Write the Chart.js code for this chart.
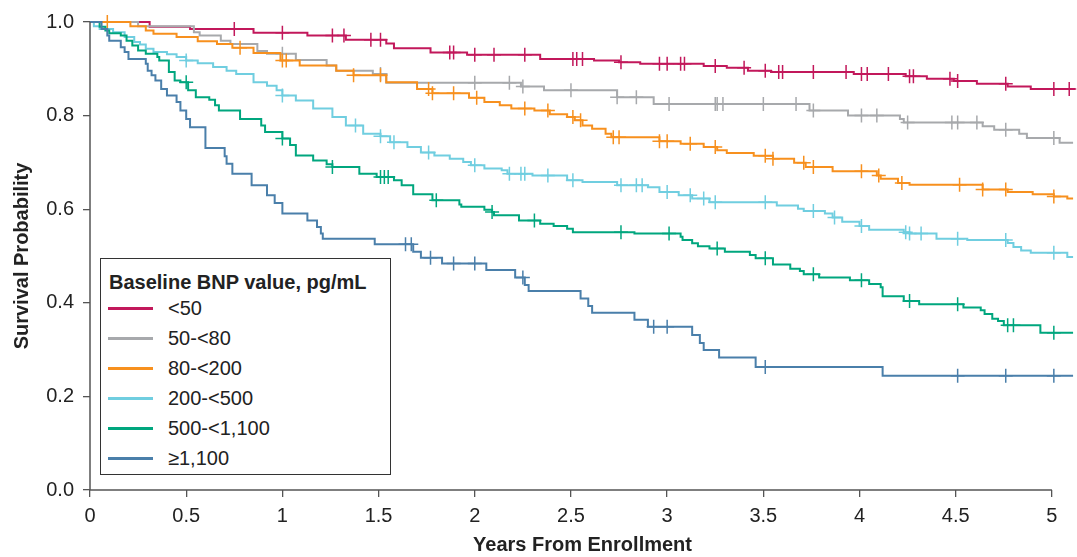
<!DOCTYPE html>
<html>
<head>
<meta charset="utf-8">
<script src="https://cdn.jsdelivr.net/npm/chart.js@4.4.1/dist/chart.umd.min.js"></script>
<style>
  body { margin: 0; background: #fff; font-family: "Liberation Sans", Arial, sans-serif; }
  #wrap { position: relative; width: 1077px; height: 557px; }
  #legend {
    position: absolute; left: 100px; top: 258px; width: 291px; height: 217px;
    box-sizing: border-box; border: 1.5px solid #333; background: #fff;
    color: #222;
  }
  #legend .title { position: absolute; left: 8px; top: 12px; font-weight: bold; font-size: 20px; white-space: nowrap; }
  #legend .item { position: absolute; left: 0; height: 24px; font-size: 20px; white-space: nowrap; }
  #legend .item span.sw { position: absolute; left: 7px; top: 11px; width: 45px; height: 2.5px; }
  #legend .item span.tx { position: absolute; left: 67px; top: 0; line-height: 24px; }
</style>
</head>
<body>
<div id="wrap">
  <canvas id="km-chart" width="1077" height="557"></canvas>
  <div id="legend"></div>
</div>
<script>
// series labels and colours
let groupLabels = ['<50', '50-<80', '80-<200', '200-<500', '500-<1,100', '≥1,100'];
let groupColors = ['rgb(194, 24, 91)', 'rgb(167, 169, 172)', 'rgb(247, 144, 30)',
                   'rgb(112, 206, 224)', 'rgb(0, 166, 126)', 'rgb(74, 127, 170)'];

// <50
let timesA = [0, 0.31, 0.52, 0.85, 1.13, 1.33, 1.54, 1.58, 1.77, 1.96, 2.34, 2.62, 2.75, 2.86, 3.19, 3.31, 3.42, 3.54, 3.97, 4.24, 4.35, 4.49, 4.61, 4.77, 4.89, 5.12];
let survA  = [1.0, 0.990, 0.985, 0.977, 0.971, 0.962, 0.954, 0.944, 0.935, 0.930, 0.921, 0.918, 0.914, 0.911, 0.906, 0.902, 0.896, 0.893, 0.889, 0.884, 0.879, 0.874, 0.868, 0.862, 0.857, 0.857];
let censA  = [0.75, 1.0, 1.26, 1.32, 1.46, 1.51, 1.87, 1.89, 2.0, 2.10, 2.26, 2.51, 2.53, 2.56, 2.76, 2.96, 3.0, 3.07, 3.09, 3.25, 3.40, 3.51, 3.58, 3.60, 3.76, 3.93, 4.01, 4.04, 4.15, 4.26, 4.28, 4.47, 4.51, 4.76, 5.01, 5.09];

// 50-<80
let timesB = [0, 0.25, 0.54, 0.57, 0.68, 0.73, 0.87, 0.92, 1.07, 1.23, 1.28, 1.47, 1.54, 2.24, 2.36, 2.74, 2.93, 3.74, 3.94, 4.21, 4.23, 4.64, 4.70, 4.83, 4.87, 5.04, 5.11];
let survB  = [1.0, 0.991, 0.978, 0.971, 0.960, 0.953, 0.938, 0.932, 0.919, 0.907, 0.896, 0.889, 0.870, 0.862, 0.854, 0.839, 0.825, 0.811, 0.800, 0.793, 0.785, 0.777, 0.770, 0.761, 0.752, 0.742, 0.742];
let censB  = [1.0, 1.51, 2.0, 2.18, 2.25, 2.50, 2.74, 2.84, 3.01, 3.25, 3.26, 3.29, 3.50, 3.67, 3.76, 4.01, 4.09, 4.25, 4.48, 4.51, 4.61, 4.76, 5.01];

// 80-<200
let timesC = [0, 0.21, 0.29, 0.33, 0.45, 0.56, 0.66, 0.74, 0.85, 0.99, 1.09, 1.28, 1.37, 1.54, 1.70, 1.78, 1.97, 2.05, 2.13, 2.19, 2.31, 2.39, 2.48, 2.52, 2.56, 2.61, 2.68, 2.71, 2.96, 3.07, 3.19, 3.26, 3.31, 3.45, 3.55, 3.66, 3.72, 3.86, 4.09, 4.11, 4.20, 4.26, 4.64, 4.77, 4.90, 5.01, 5.08, 5.11];
let survC  = [1.0, 0.991, 0.982, 0.975, 0.968, 0.959, 0.953, 0.945, 0.934, 0.918, 0.907, 0.896, 0.886, 0.871, 0.857, 0.848, 0.838, 0.829, 0.822, 0.815, 0.811, 0.803, 0.797, 0.790, 0.779, 0.772, 0.761, 0.754, 0.745, 0.740, 0.733, 0.726, 0.720, 0.714, 0.708, 0.699, 0.690, 0.681, 0.672, 0.665, 0.656, 0.652, 0.642, 0.637, 0.632, 0.627, 0.623, 0.623];
let censC  = [0.09, 0.78, 1.0, 1.02, 1.37, 1.51, 1.76, 1.78, 1.89, 2.01, 2.26, 2.38, 2.51, 2.55, 2.72, 2.75, 2.96, 3.0, 3.12, 3.25, 3.51, 3.55, 3.71, 3.76, 4.01, 4.10, 4.22, 4.52, 4.64, 4.76, 5.01];

// 200-<500
let timesD = [0, 0.02, 0.05, 0.12, 0.18, 0.23, 0.26, 0.29, 0.33, 0.40, 0.45, 0.50, 0.56, 0.64, 0.71, 0.76, 0.85, 0.92, 0.97, 1.0, 1.07, 1.16, 1.26, 1.33, 1.42, 1.51, 1.56, 1.65, 1.72, 1.79, 1.87, 1.94, 1.98, 2.05, 2.14, 2.17, 2.30, 2.48, 2.56, 2.74, 2.90, 2.96, 3.06, 3.13, 3.22, 3.57, 3.68, 3.71, 3.82, 3.86, 3.91, 4.00, 4.05, 4.23, 4.26, 4.40, 4.56, 4.77, 4.80, 4.84, 4.89, 5.08, 5.11];
let survD  = [1.0, 0.991, 0.985, 0.978, 0.968, 0.957, 0.952, 0.943, 0.936, 0.931, 0.925, 0.918, 0.912, 0.904, 0.896, 0.889, 0.871, 0.864, 0.854, 0.843, 0.832, 0.815, 0.797, 0.779, 0.761, 0.756, 0.743, 0.733, 0.721, 0.715, 0.708, 0.701, 0.694, 0.687, 0.683, 0.676, 0.672, 0.662, 0.658, 0.651, 0.647, 0.637, 0.630, 0.623, 0.615, 0.608, 0.601, 0.596, 0.591, 0.582, 0.573, 0.564, 0.556, 0.551, 0.548, 0.537, 0.534, 0.528, 0.519, 0.512, 0.507, 0.498, 0.498];
let censD  = [0.50, 1.0, 1.38, 1.51, 1.58, 1.76, 2.0, 2.18, 2.24, 2.26, 2.38, 2.51, 2.76, 2.84, 2.87, 3.0, 3.12, 3.19, 3.25, 3.51, 3.76, 3.87, 4.01, 4.24, 4.26, 4.32, 4.51, 4.76, 5.01];

// 500-<1,100
let timesE = [0, 0.05, 0.08, 0.10, 0.16, 0.19, 0.22, 0.25, 0.29, 0.35, 0.36, 0.41, 0.44, 0.47, 0.51, 0.55, 0.62, 0.65, 0.67, 0.78, 0.89, 0.91, 1.0, 1.04, 1.07, 1.16, 1.23, 1.26, 1.40, 1.49, 1.58, 1.62, 1.68, 1.78, 1.92, 1.93, 2.05, 2.09, 2.10, 2.23, 2.34, 2.41, 2.48, 2.51, 2.83, 3.07, 3.08, 3.13, 3.16, 3.22, 3.30, 3.43, 3.46, 3.55, 3.64, 3.69, 3.71, 3.79, 3.95, 4.05, 4.11, 4.12, 4.23, 4.31, 4.54, 4.63, 4.65, 4.69, 4.72, 4.75, 4.94, 5.11];
let survE  = [1.0, 0.990, 0.982, 0.976, 0.971, 0.960, 0.950, 0.939, 0.932, 0.925, 0.918, 0.893, 0.875, 0.871, 0.854, 0.839, 0.834, 0.822, 0.811, 0.793, 0.779, 0.765, 0.751, 0.737, 0.715, 0.704, 0.696, 0.690, 0.676, 0.669, 0.662, 0.651, 0.632, 0.619, 0.610, 0.605, 0.599, 0.594, 0.587, 0.576, 0.569, 0.564, 0.558, 0.551, 0.548, 0.541, 0.534, 0.527, 0.521, 0.516, 0.509, 0.502, 0.495, 0.482, 0.473, 0.468, 0.461, 0.454, 0.448, 0.440, 0.433, 0.414, 0.404, 0.397, 0.390, 0.384, 0.376, 0.366, 0.361, 0.352, 0.336, 0.336];
let censE  = [0.50, 1.0, 1.26, 1.51, 1.53, 1.55, 1.80, 2.09, 2.31, 2.76, 3.01, 3.26, 3.51, 3.76, 4.01, 4.26, 4.51, 4.77, 4.80, 5.01];

// ≥1,100
let timesF = [0, 0.06, 0.09, 0.10, 0.16, 0.18, 0.20, 0.29, 0.30, 0.32, 0.34, 0.37, 0.40, 0.45, 0.47, 0.50, 0.52, 0.60, 0.70, 0.71, 0.74, 0.84, 0.92, 0.96, 1.0, 1.13, 1.18, 1.20, 1.21, 1.48, 1.68, 1.72, 1.83, 2.06, 2.21, 2.26, 2.28, 2.55, 2.59, 2.61, 2.83, 2.90, 3.13, 3.17, 3.19, 3.27, 3.46, 4.12, 5.11];
let survF  = [1.0, 0.985, 0.971, 0.960, 0.946, 0.936, 0.921, 0.911, 0.896, 0.886, 0.875, 0.857, 0.843, 0.829, 0.811, 0.793, 0.775, 0.731, 0.713, 0.697, 0.676, 0.651, 0.630, 0.613, 0.591, 0.576, 0.562, 0.548, 0.537, 0.525, 0.509, 0.496, 0.484, 0.470, 0.454, 0.438, 0.425, 0.409, 0.393, 0.379, 0.364, 0.349, 0.331, 0.314, 0.299, 0.283, 0.263, 0.244, 0.244];
let censF  = [1.64, 1.67, 1.77, 1.89, 2.0, 2.25, 2.93, 3.0, 3.51, 4.51, 4.76, 5.01];

let xTicks = [0, 0.5, 1, 1.5, 2, 2.5, 3, 3.5, 4, 4.5, 5];
let yTicks = [0, 0.2, 0.4, 0.6, 0.8, 1.0];

let allTimes = [timesA, timesB, timesC, timesD, timesE, timesF];
let allSurv = [survA, survB, survC, survD, survE, survF];
let allCens = [censA, censB, censC, censD, censE, censF];

function survAt(times, surv, t) {
    let s = surv[0];
    for (let i = 0; i < times.length; i++) {
        if (times[i] <= t) s = surv[i];
    }
    return s;
}

let datasets = [];
for (let g = 5; g >= 0; g--) {
    datasets.push({
        type: 'line',
        label: groupLabels[g],
        data: allTimes[g].map((t, i) => ({ x: t, y: allSurv[g][i] })),
        borderColor: groupColors[g],
        borderWidth: 2,
        stepped: true,
        pointRadius: 0,
        fill: false,
        clip: false
    });
    datasets.push({
        type: 'scatter',
        label: groupLabels[g] + ' censored',
        data: allCens[g].map(t => ({ x: t, y: survAt(allTimes[g], allSurv[g], t) })),
        borderColor: groupColors[g],
        backgroundColor: groupColors[g],
        pointStyle: 'cross',
        pointRadius: 7,
        borderWidth: 1.5,
        clip: false
    });
}

// R-style axis lines that only span the tick range
const axisLines = {
    id: 'axisLines',
    afterDraw(chart) {
        const ctx = chart.ctx;
        const x = chart.scales.x, y = chart.scales.y;
        ctx.save();
        ctx.strokeStyle = '#555';
        ctx.lineWidth = 1.5;
        ctx.beginPath();
        ctx.moveTo(x.left, y.getPixelForValue(0));
        ctx.lineTo(x.left, y.getPixelForValue(1));
        ctx.moveTo(x.getPixelForValue(0), y.bottom);
        ctx.lineTo(x.getPixelForValue(5), y.bottom);
        ctx.stroke();
        ctx.restore();
    }
};

Chart.defaults.font.family = '"Liberation Sans", Arial, sans-serif';
Chart.defaults.font.size = 20;
Chart.defaults.color = '#222';

const ctx = document.getElementById('km-chart').getContext('2d');
let kmChart = new Chart(ctx, {
    data: { datasets: datasets },
    options: {
        responsive: false,
        animation: false,
        events: [],
        layout: { autoPadding: false, padding: { top: 22, right: 2, left: 0, bottom: 0 } },
        scales: {
            x: {
                type: 'linear',
                min: 0,
                max: 5.12,
                afterFit(scale) { scale.height = 67; },
                afterBuildTicks(scale) { scale.ticks = xTicks.map(v => ({ value: v })); },
                ticks: {
                    padding: 7,
                    autoSkip: false,
                    maxRotation: 0,
                    callback: v => String(v)
                },
                grid: { drawOnChartArea: false, drawTicks: true, tickLength: 7, color: '#555', lineWidth: 1.3 },
                border: { display: false },
                title: {
                    display: true,
                    text: 'Years From Enrollment',
                    font: { weight: 'bold', size: 20 },
                    padding: { top: 0, bottom: 0 }
                }
            },
            y: {
                type: 'linear',
                min: 0,
                max: 1.0,
                afterFit(scale) { scale.width = 90; },
                afterBuildTicks(scale) { scale.ticks = yTicks.map(v => ({ value: v })); },
                ticks: {
                    padding: 9,
                    callback: v => v.toFixed(1)
                },
                grid: { drawOnChartArea: false, drawTicks: true, tickLength: 7, color: '#555', lineWidth: 1.3 },
                border: { display: false },
                title: {
                    display: true,
                    text: 'Survival Probability',
                    font: { weight: 'bold', size: 20 },
                    padding: { top: 10, bottom: 0 }
                }
            }
        },
        plugins: {
            legend: { display: false },
            tooltip: { enabled: false }
        }
    },
    plugins: [axisLines]
});

// legend box drawn as html, built from the label/colour arrays
const legend = document.getElementById('legend');
let html = '<div class="title">Baseline BNP value, pg/mL</div>';
groupLabels.forEach((lab, i) => {
    const top = 37 + i * 30;
    html += '<div class="item" style="top:' + top + 'px"><span class="sw" style="background:' + groupColors[i] + '"></span><span class="tx">' +
        lab.replace(/</g, '&lt;') + '</span></div>';
});
legend.innerHTML = html;
</script>
</body>
</html>
